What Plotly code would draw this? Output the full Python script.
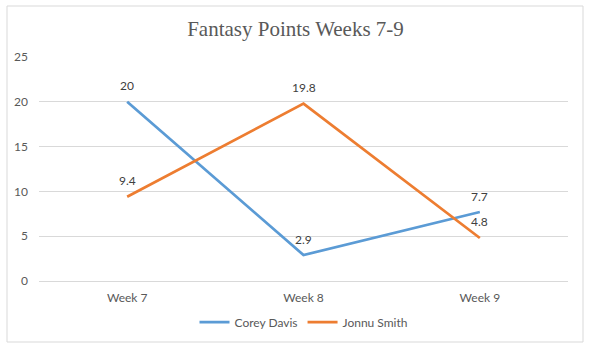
import plotly.graph_objects as go

# Weekly fantasy points
weeks = ["Week 7", "Week 8", "Week 9"]
corey_davis = [20, 2.9, 7.7]
jonnu_smith = [9.4, 19.8, 4.8]
y_ticks = [0, 5, 10, 15, 20, 25]

W, H = 591, 349
ML, MR, MT, MB = 39, 23, 57, 68
PW, PH = W - ML - MR, H - MT - MB

BLUE = "#5b9bd5"
ORANGE = "#ed7d31"
GRID = "#d9d9d9"
TEXT = "#595959"
LABEL = "#404040"

fig = go.Figure()
fig.add_trace(go.Scatter(x=weeks, y=corey_davis, name="Corey Davis", mode="lines",
                         line=dict(color=BLUE, width=2.75)))
fig.add_trace(go.Scatter(x=weeks, y=jonnu_smith, name="Jonnu Smith", mode="lines",
                         line=dict(color=ORANGE, width=2.75)))

# value labels above each point
annotations = []
for series in (corey_davis, jonnu_smith):
    for wk, v in zip(weeks, series):
        annotations.append(dict(x=wk, y=v, text=f"{v:g}", showarrow=False,
                                yshift=16, font=dict(family="Lato", size=12, color=LABEL)))

# outer chart border
px = lambda p: (p - ML) / PW
py = lambda p: (H - MB - p) / PH
shapes = [dict(type="rect", xref="paper", yref="paper",
               x0=px(7), x1=px(583), y0=py(342), y1=py(6),
               line=dict(color=GRID, width=1), fillcolor="rgba(0,0,0,0)")]

fig.update_layout(
    width=W, height=H,
    margin=dict(l=ML, r=MR, t=MT, b=MB),
    paper_bgcolor="white", plot_bgcolor="white",
    title=dict(text="Fantasy Points Weeks 7-9", x=0.5, xanchor="center",
               y=1 - 29 / H, yref="container", yanchor="middle",
               font=dict(family="Liberation Serif", size=21, color=TEXT)),
    font=dict(family="Lato", size=12, color=TEXT),
    xaxis=dict(type="category", range=[-0.5, 2.5], showgrid=False, zeroline=False,
               showline=True, linecolor=GRID, linewidth=1, ticks="",
               ticklabelstandoff=6,
               tickfont=dict(family="Lato", size=12, color=TEXT)),
    yaxis=dict(range=[0, 25], tickvals=y_ticks, showgrid=True, gridcolor=GRID,
               gridwidth=1, zeroline=False, showline=False, ticks="",
               ticklabelstandoff=10,
               tickfont=dict(family="Lato", size=12, color=TEXT)),
    legend=dict(orientation="h", x=0.5, xanchor="center", y=-41 / PH, yanchor="middle",
                font=dict(family="Lato", size=12, color=TEXT), itemwidth=30),
    annotations=annotations,
    shapes=shapes,
)

fig.write_html("out.html")
